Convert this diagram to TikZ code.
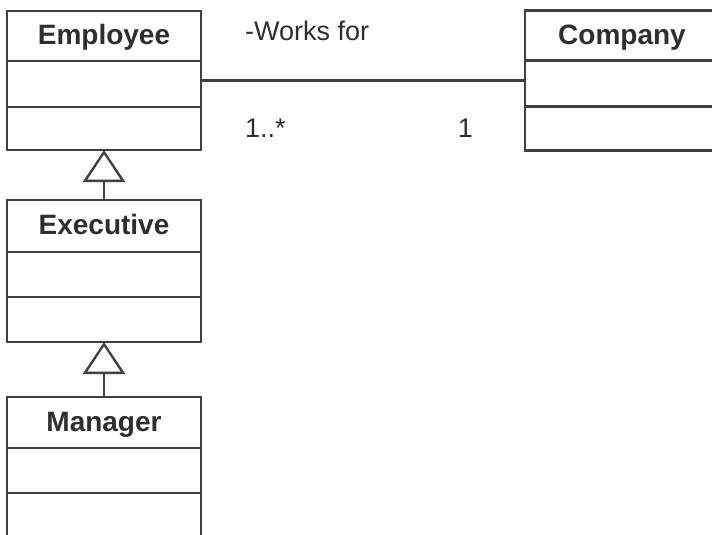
\documentclass[tikz,border=0pt]{standalone}
\usepackage{fontspec}
\setmainfont{Liberation Sans}
\usepackage{xcolor}
\definecolor{umlgrau}{gray}{0.25}
\definecolor{umltext}{gray}{0.18}
\usetikzlibrary{arrows.meta}
\usetikzlibrary{positioning,shapes.multipart}

\tikzset{
  umlclass/.style={rectangle split,rectangle split parts=3,draw=umlgrau,line width=2.4pt,
    minimum width=194pt,inner xsep=0pt,inner ysep=0pt,outer sep=0pt,text=umltext,
    font=\fontsize{28pt}{30pt}\selectfont\bfseries},
  umllabel/.style={text=umltext,inner sep=0pt,font=\fontsize{27pt}{30pt}\selectfont},
  inherit/.style={-{Triangle[open,length=32pt,width=42pt]},draw=umlgrau,line width=2.4pt},
  assoc/.style={draw=umlgrau,line width=2.4pt}
}

\begin{document}
\begin{tikzpicture}[x=1pt,y=-1pt]
    \useasboundingbox (0,0) rectangle (712,535);
    \clip (0,0) rectangle (712,535);

    \node[umlclass,anchor=north west] (employee) at (7,11)
        {\rule[-15pt]{0pt}{47.6pt}Employee\nodepart{two}\rule{0pt}{43.6pt}\nodepart{three}\rule{0pt}{40.6pt}};
    \node[umlclass] (executive) [below=50pt of employee]
        {\rule[-16pt]{0pt}{49.6pt}Executive\nodepart{two}\rule{0pt}{42.6pt}\nodepart{three}\rule{0pt}{42.6pt}};
    \node[umlclass] (manager) [below=55pt of executive]
        {\rule[-15pt]{0pt}{48.6pt}Manager\nodepart{two}\rule{0pt}{42.6pt}\nodepart{three}\rule{0pt}{42.6pt}};
    \node[umlclass] (company) [right=324pt of employee]
        {\rule[-15pt]{0pt}{47.6pt}Company\nodepart{two}\rule{0pt}{43.6pt}\nodepart{three}\rule{0pt}{41.6pt}};

    \node[umllabel,anchor=base west] (worksfor) at ([xshift=44pt,yshift=40pt]employee.east) {-Works for};
    \node[umllabel,anchor=base west] (multemp) at ([xshift=44pt,yshift=-57pt]employee.east) {1..*};
    \node[umllabel,anchor=base east] (multcomp) at ([xshift=-52pt,yshift=-57pt]company.west) {1};

    \path[assoc] (employee) edge (company);
    \draw[inherit] (executive.north) -- (employee.south);
    \draw[inherit] (manager.north) -- (executive.south);
\end{tikzpicture}
\end{document}
